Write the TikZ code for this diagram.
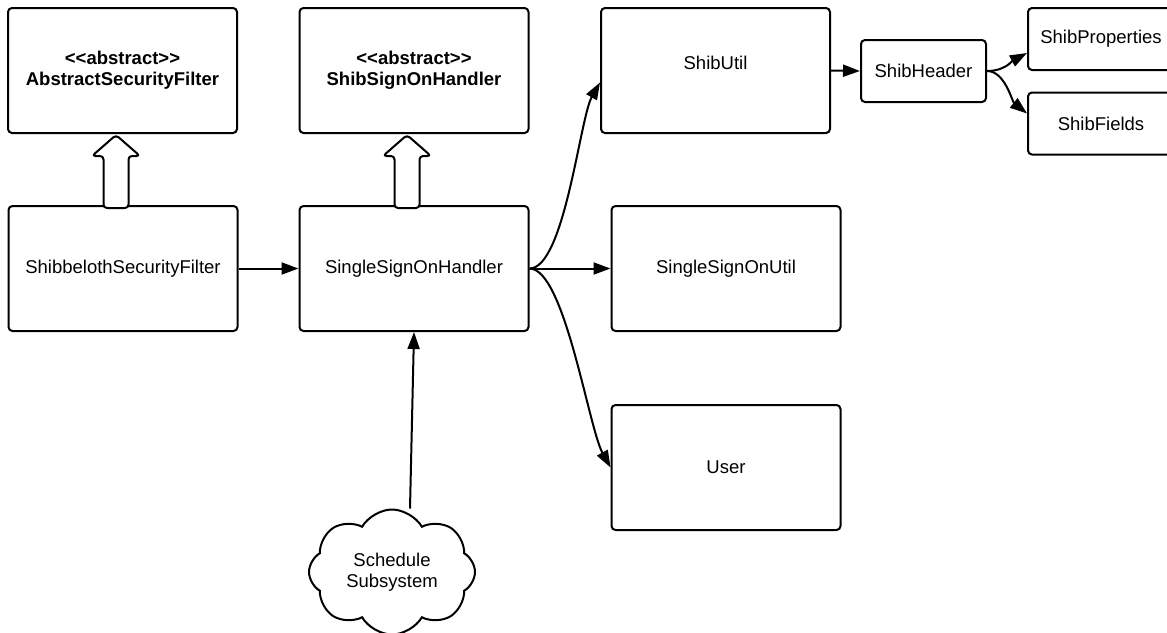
\documentclass[tikz,border=0pt]{standalone}
\usepackage{fontspec}
\setmainfont{Liberation Sans}
\usetikzlibrary{arrows.meta,shapes.symbols,calc}

% hollow inheritance arrow pointing from the lower class up to the upper one
% #1 lower node, #2 upper node, #3 horizontal offset of the arrow axis
\newcommand\hollowup[3]{%
  \draw[blockarr] let \p1=([xshift=#3]#1.north), \p2=([xshift=#3]#2.south) in
    (\x1-12.5pt,\y1-3pt) -- (\x1-12.5pt,\y2-22pt) -- (\x1-24pt,\y2-22pt)
    -- (\x1,\y2-1pt) -- (\x1+24pt,\y2-22pt) -- (\x1+12.5pt,\y2-22pt)
    -- (\x1+12.5pt,\y1-3pt) -- cycle;}

\begin{document}
\begin{tikzpicture}[x=1pt,y=-1pt,
  txt/.style={font=\fontsize{18.5}{21}\selectfont},
  box/.style={draw, line width=2pt, rounded corners=4pt, fill=white,
    align=center, inner sep=0pt, txt},
  big/.style={box, minimum width=229, minimum height=125},
  small/.style={box, minimum width=146, minimum height=62},
  conn/.style={line width=2pt, -{Triangle[length=17pt,width=12pt]}},
  blockarr/.style={draw, line width=2pt, fill=white, rounded corners=3.5pt,
    line join=round},
]
\path[use as bounding box] (0,0) rectangle (1167,632);
\clip (0,0) rectangle (1167,632);

% abstract base classes
\node[big] (asf) at (122.5,70.5) {\textbf{<{}<abstract>{}>}\\\textbf{AbstractSecurityFilter}};
\node[big] (ssh) at (414,70.5) {\textbf{<{}<abstract>{}>}\\\textbf{ShibSignOnHandler}};

% concrete classes
\node[big] (ssf)  at (123,268.5) {ShibbelothSecurityFilter};
\node[big] (ssoh) at (414,268.5) {SingleSignOnHandler};
\node[big] (shibutil) at (715.5,70.5) {\raisebox{1.5pt}[0pt][0pt]{ShibUtil}};
\node[big] (ssou) at (726,268.5) {SingleSignOnUtil};
\node[big] (user) at (726,467.5) {User};

% header helpers
\node[box, minimum width=125, minimum height=62] (shibheader) at (923.5,71) {ShibHeader};
\node[small] (shibprops)  at (1101,39)    {ShibProperties};
\node[small] (shibfields) at (1101,123.5) {ShibFields};

% external subsystem
\node[cloud, draw, line width=2pt, fill=white, cloud puffs=8, cloud puff arc=120,
  aspect=1.3, minimum width=166, minimum height=125, inner sep=0pt, align=center, txt]
  (sched) at (392,572) {Schedule\\Subsystem};

% inheritance
\hollowup{ssf}{asf}{-7pt}
\hollowup{ssoh}{ssh}{-7pt}

% associations
\draw[conn] (ssf.east) -- (ssoh.west);
\draw[conn] (ssoh.east) .. controls +(35,0) and +(-20,35) .. ([yshift=-12pt]shibutil.west);
\draw[conn] (ssoh.east) -- (ssou.west);
\draw[conn] (ssoh.east) .. controls +(35,0) and +(-22,-40) .. (user.west);
\draw[conn] (shibutil.east) -- (shibheader.west);
\draw[conn] (shibheader.east) .. controls +(18,0) and +(-15,8) .. ([yshift=-14pt]shibprops.west);
\draw[conn] (shibheader.east) .. controls +(18,0) and +(-15,-12) .. ([yshift=10pt]shibfields.west);
\draw[conn] ([xshift=18pt]sched.north) -- (ssoh.south);
\end{tikzpicture}
\end{document}
